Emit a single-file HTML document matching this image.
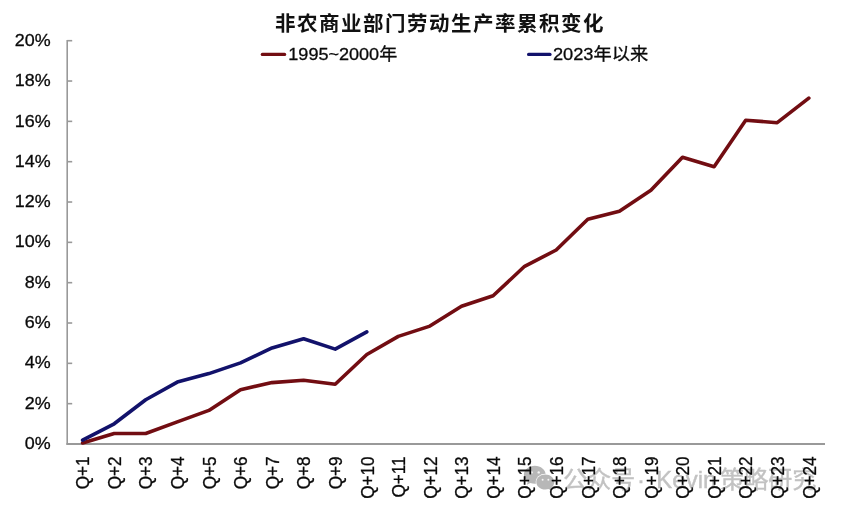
<!DOCTYPE html>
<html lang="zh"><head><meta charset="utf-8"><title>非农商业部门劳动生产率累积变化</title>
<style>
html,body{margin:0;padding:0;background:#fff;}
body{width:841px;height:513px;overflow:hidden;}
svg{display:block;}
text{font-family:"Liberation Sans","Noto Sans CJK SC",sans-serif;fill:#0a0a0a;}
.t{font-weight:bold;font-size:20.5px;letter-spacing:1.5px;fill:#111;}
.l{font-size:17.1px;stroke:#0a0a0a;stroke-width:0.3px;}
.y{font-size:17.4px;}
.wm{font-size:24px;fill:#c2c2c2;stroke:#c2c2c2;stroke-width:0.4px;}
</style></head><body>
<svg width="841" height="513" viewBox="0 0 841 513">
<rect width="841" height="513" fill="#fff"/>
<text class="t" x="275" y="30.7">非农商业部门劳动生产率累积变化</text>
<line x1="262.3" y1="54.4" x2="284.6" y2="54.4" stroke="#720d12" stroke-width="3.2" stroke-linecap="round"/>
<text class="l" text-anchor="start" transform="translate(288.3,59.8) scale(1.056,1)">1995~2000年</text>
<line x1="528.6" y1="54.4" x2="550.0" y2="54.4" stroke="#12126b" stroke-width="3.2" stroke-linecap="round"/>
<text class="l" text-anchor="start" transform="translate(552.9,59.8) scale(1.068,1)">2023年以来</text>
<g stroke="#999" stroke-width="1.6" fill="none">
<line x1="67.2" y1="39.900000000000006" x2="67.2" y2="444.8"/>
<line x1="66.4" y1="444.0" x2="825.0" y2="444.0" stroke-width="1.8"/>
<line x1="67.2" y1="403.67" x2="72.2" y2="403.67"/>
<line x1="67.2" y1="363.34" x2="72.2" y2="363.34"/>
<line x1="67.2" y1="323.01" x2="72.2" y2="323.01"/>
<line x1="67.2" y1="282.68" x2="72.2" y2="282.68"/>
<line x1="67.2" y1="242.35" x2="72.2" y2="242.35"/>
<line x1="67.2" y1="202.02" x2="72.2" y2="202.02"/>
<line x1="67.2" y1="161.69" x2="72.2" y2="161.69"/>
<line x1="67.2" y1="121.36" x2="72.2" y2="121.36"/>
<line x1="67.2" y1="81.03" x2="72.2" y2="81.03"/>
<line x1="67.2" y1="40.70" x2="72.2" y2="40.70"/>
</g>
<text class="l y" text-anchor="end" transform="translate(50.6,449.1) scale(1.03,1)">0%</text>
<text class="l y" text-anchor="end" transform="translate(50.6,408.8) scale(1.03,1)">2%</text>
<text class="l y" text-anchor="end" transform="translate(50.6,368.4) scale(1.03,1)">4%</text>
<text class="l y" text-anchor="end" transform="translate(50.6,328.1) scale(1.03,1)">6%</text>
<text class="l y" text-anchor="end" transform="translate(50.6,287.8) scale(1.03,1)">8%</text>
<text class="l y" text-anchor="end" transform="translate(50.6,247.4) scale(1.03,1)">10%</text>
<text class="l y" text-anchor="end" transform="translate(50.6,207.1) scale(1.03,1)">12%</text>
<text class="l y" text-anchor="end" transform="translate(50.6,166.8) scale(1.03,1)">14%</text>
<text class="l y" text-anchor="end" transform="translate(50.6,126.5) scale(1.03,1)">16%</text>
<text class="l y" text-anchor="end" transform="translate(50.6,86.1) scale(1.03,1)">18%</text>
<text class="l y" text-anchor="end" transform="translate(50.6,45.8) scale(1.03,1)">20%</text>
<g fill="#b7b7b7"><path d="M534.8 465.8c-6 0-10.9 4-10.9 9 0 2.8 1.5 5.2 3.9 6.9l-1 3 3.5-1.8c1.400.5 2.900.8 4.500.8 6 0 10.900-4 10.900-8.900s-4.900-9-10.900-9z"/><ellipse cx="545.3" cy="482" rx="9.700" ry="8.300" fill="#fff"/><path d="M545.3 474.400c-5 0-9 3.400-9 7.600s4 7.600 9 7.600c1.200 0 2.300-0.200 3.300-0.500l3 1.600-0.800-2.600c2.100-1.400 3.500-3.600 3.500-6.100 0-4.200-4-7.600-9-7.600z"/><g fill="#f4f4f4"><circle cx="531.700" cy="472.400" r="1.200"/><circle cx="538.700" cy="472.400" r="1.200"/><circle cx="542.600" cy="479.800" r="1"/><circle cx="548.400" cy="479.800" r="1"/></g></g>
<text class="wm" y="487.8"><tspan x="563.3">公众号</tspan><tspan x="637">·</tspan><tspan x="656.3">Kevin</tspan><tspan x="720.3">策略研究</tspan></text>
<text class="l" text-anchor="end" transform="translate(89.3,456.5) rotate(-90) scale(1,1.047)">Q+1</text>
<text class="l" text-anchor="end" transform="translate(120.9,456.5) rotate(-90) scale(1,1.047)">Q+2</text>
<text class="l" text-anchor="end" transform="translate(152.4,456.5) rotate(-90) scale(1,1.047)">Q+3</text>
<text class="l" text-anchor="end" transform="translate(184.0,456.5) rotate(-90) scale(1,1.047)">Q+4</text>
<text class="l" text-anchor="end" transform="translate(215.6,456.5) rotate(-90) scale(1,1.047)">Q+5</text>
<text class="l" text-anchor="end" transform="translate(247.2,456.5) rotate(-90) scale(1,1.047)">Q+6</text>
<text class="l" text-anchor="end" transform="translate(278.7,456.5) rotate(-90) scale(1,1.047)">Q+7</text>
<text class="l" text-anchor="end" transform="translate(310.3,456.5) rotate(-90) scale(1,1.047)">Q+8</text>
<text class="l" text-anchor="end" transform="translate(341.9,456.5) rotate(-90) scale(1,1.047)">Q+9</text>
<text class="l" text-anchor="end" transform="translate(373.5,456.5) rotate(-90) scale(1,1.047)">Q+10</text>
<text class="l" text-anchor="end" transform="translate(405.0,456.5) rotate(-90) scale(1,1.047)">Q+11</text>
<text class="l" text-anchor="end" transform="translate(436.6,456.5) rotate(-90) scale(1,1.047)">Q+12</text>
<text class="l" text-anchor="end" transform="translate(468.2,456.5) rotate(-90) scale(1,1.047)">Q+13</text>
<text class="l" text-anchor="end" transform="translate(499.8,456.5) rotate(-90) scale(1,1.047)">Q+14</text>
<text class="l" text-anchor="end" transform="translate(531.3,456.5) rotate(-90) scale(1,1.047)">Q+15</text>
<text class="l" text-anchor="end" transform="translate(562.9,456.5) rotate(-90) scale(1,1.047)">Q+16</text>
<text class="l" text-anchor="end" transform="translate(594.5,456.5) rotate(-90) scale(1,1.047)">Q+17</text>
<text class="l" text-anchor="end" transform="translate(626.1,456.5) rotate(-90) scale(1,1.047)">Q+18</text>
<text class="l" text-anchor="end" transform="translate(657.6,456.5) rotate(-90) scale(1,1.047)">Q+19</text>
<text class="l" text-anchor="end" transform="translate(689.2,456.5) rotate(-90) scale(1,1.047)">Q+20</text>
<text class="l" text-anchor="end" transform="translate(720.8,456.5) rotate(-90) scale(1,1.047)">Q+21</text>
<text class="l" text-anchor="end" transform="translate(752.4,456.5) rotate(-90) scale(1,1.047)">Q+22</text>
<text class="l" text-anchor="end" transform="translate(783.9,456.5) rotate(-90) scale(1,1.047)">Q+23</text>
<text class="l" text-anchor="end" transform="translate(815.5,456.5) rotate(-90) scale(1,1.047)">Q+24</text>
<polyline points="82.6,443.0 114.2,433.5 145.7,433.5 177.3,421.9 208.9,410.4 240.5,389.7 272.0,382.6 303.6,380.2 335.2,384.2 366.8,354.5 398.3,336.4 429.9,326.1 461.5,306.2 493.1,295.8 524.6,266.3 556.2,250.0 587.8,219.2 619.4,211.2 650.9,190.3 682.5,157.2 714.1,166.8 745.7,120.2 777.2,122.7 808.8,98.1" fill="none" stroke="#720d12" stroke-width="3.6" stroke-linejoin="round" stroke-linecap="round"/>
<polyline points="82.6,440.2 114.2,423.8 145.7,399.7 177.3,382.1 208.9,373.6 240.5,362.9 272.0,347.9 303.6,338.8 335.2,349.1 366.8,331.9" fill="none" stroke="#12126b" stroke-width="3.6" stroke-linejoin="round" stroke-linecap="round"/>
</svg></body></html>
